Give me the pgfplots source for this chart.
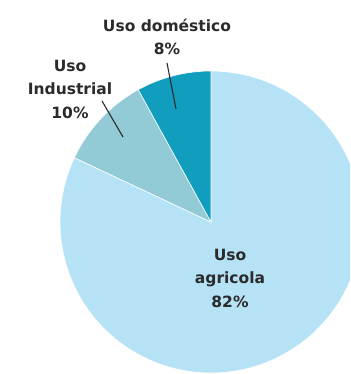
\documentclass[border=0pt]{standalone}
\usepackage{pgfplots}
\pgfplotsset{compat=1.18}
\usepackage{fontspec}
\setmainfont{DejaVu Sans}
\definecolor{agri}{HTML}{B6E2F6}
\definecolor{indu}{HTML}{92CAD6}
\definecolor{dome}{HTML}{109DBE}
\definecolor{txt}{HTML}{2B2B2B}
% shares (percent), drawn counter-clockwise from the top
\def\pDom{8}
\def\pInd{10}
\def\pAgr{82}
\begin{document}
\begin{tikzpicture}
\useasboundingbox (0,0) rectangle (350pt,374pt);
\begin{axis}[
  at={(0,0)}, anchor=south west,
  scale only axis, width=350pt, height=374pt,
  xmin=0, xmax=350, ymin=0, ymax=374,
  hide axis, clip=true,
]
\pgfmathsetmacro{\aA}{90}
\pgfmathsetmacro{\aB}{90+3.6*\pDom}
\pgfmathsetmacro{\aC}{\aB+3.6*\pInd}
\pgfmathsetmacro{\aD}{\aC+3.6*\pAgr}
\addplot[fill=agri, draw=white, line width=0.6pt, domain=\aC:\aD, samples=120]
  ({211+151*cos(x)},{152+151*sin(x)}) -- (axis cs:211,152) -- cycle;
\addplot[fill=indu, draw=white, line width=0.6pt, domain=\aB:\aC, samples=30]
  ({211+151*cos(x)},{152+151*sin(x)}) -- (axis cs:211,152) -- cycle;
\addplot[fill=dome, draw=white, line width=0.6pt, domain=\aA:\aB, samples=30]
  ({211+151*cos(x)},{152+151*sin(x)}) -- (axis cs:211,152) -- cycle;
% leader lines
\addplot[txt, line width=1.1pt] coordinates {(167,311) (176,265)};
\addplot[txt, line width=1.1pt] coordinates {(102,273) (123,237)};
% labels
\node[txt, align=center, font=\fontsize{15.5}{23.5}\selectfont\bfseries] at (axis cs:167,337) {Uso doméstico\\8\%};
\node[txt, align=center, font=\fontsize{15.5}{23.5}\selectfont\bfseries] at (axis cs:70,285) {Uso\\Industrial\\10\%};
\node[txt, align=center, font=\fontsize{15.5}{23.5}\selectfont\bfseries] at (axis cs:230,96) {Uso\\agricola\\82\%};
\end{axis}
\end{tikzpicture}
\end{document}
